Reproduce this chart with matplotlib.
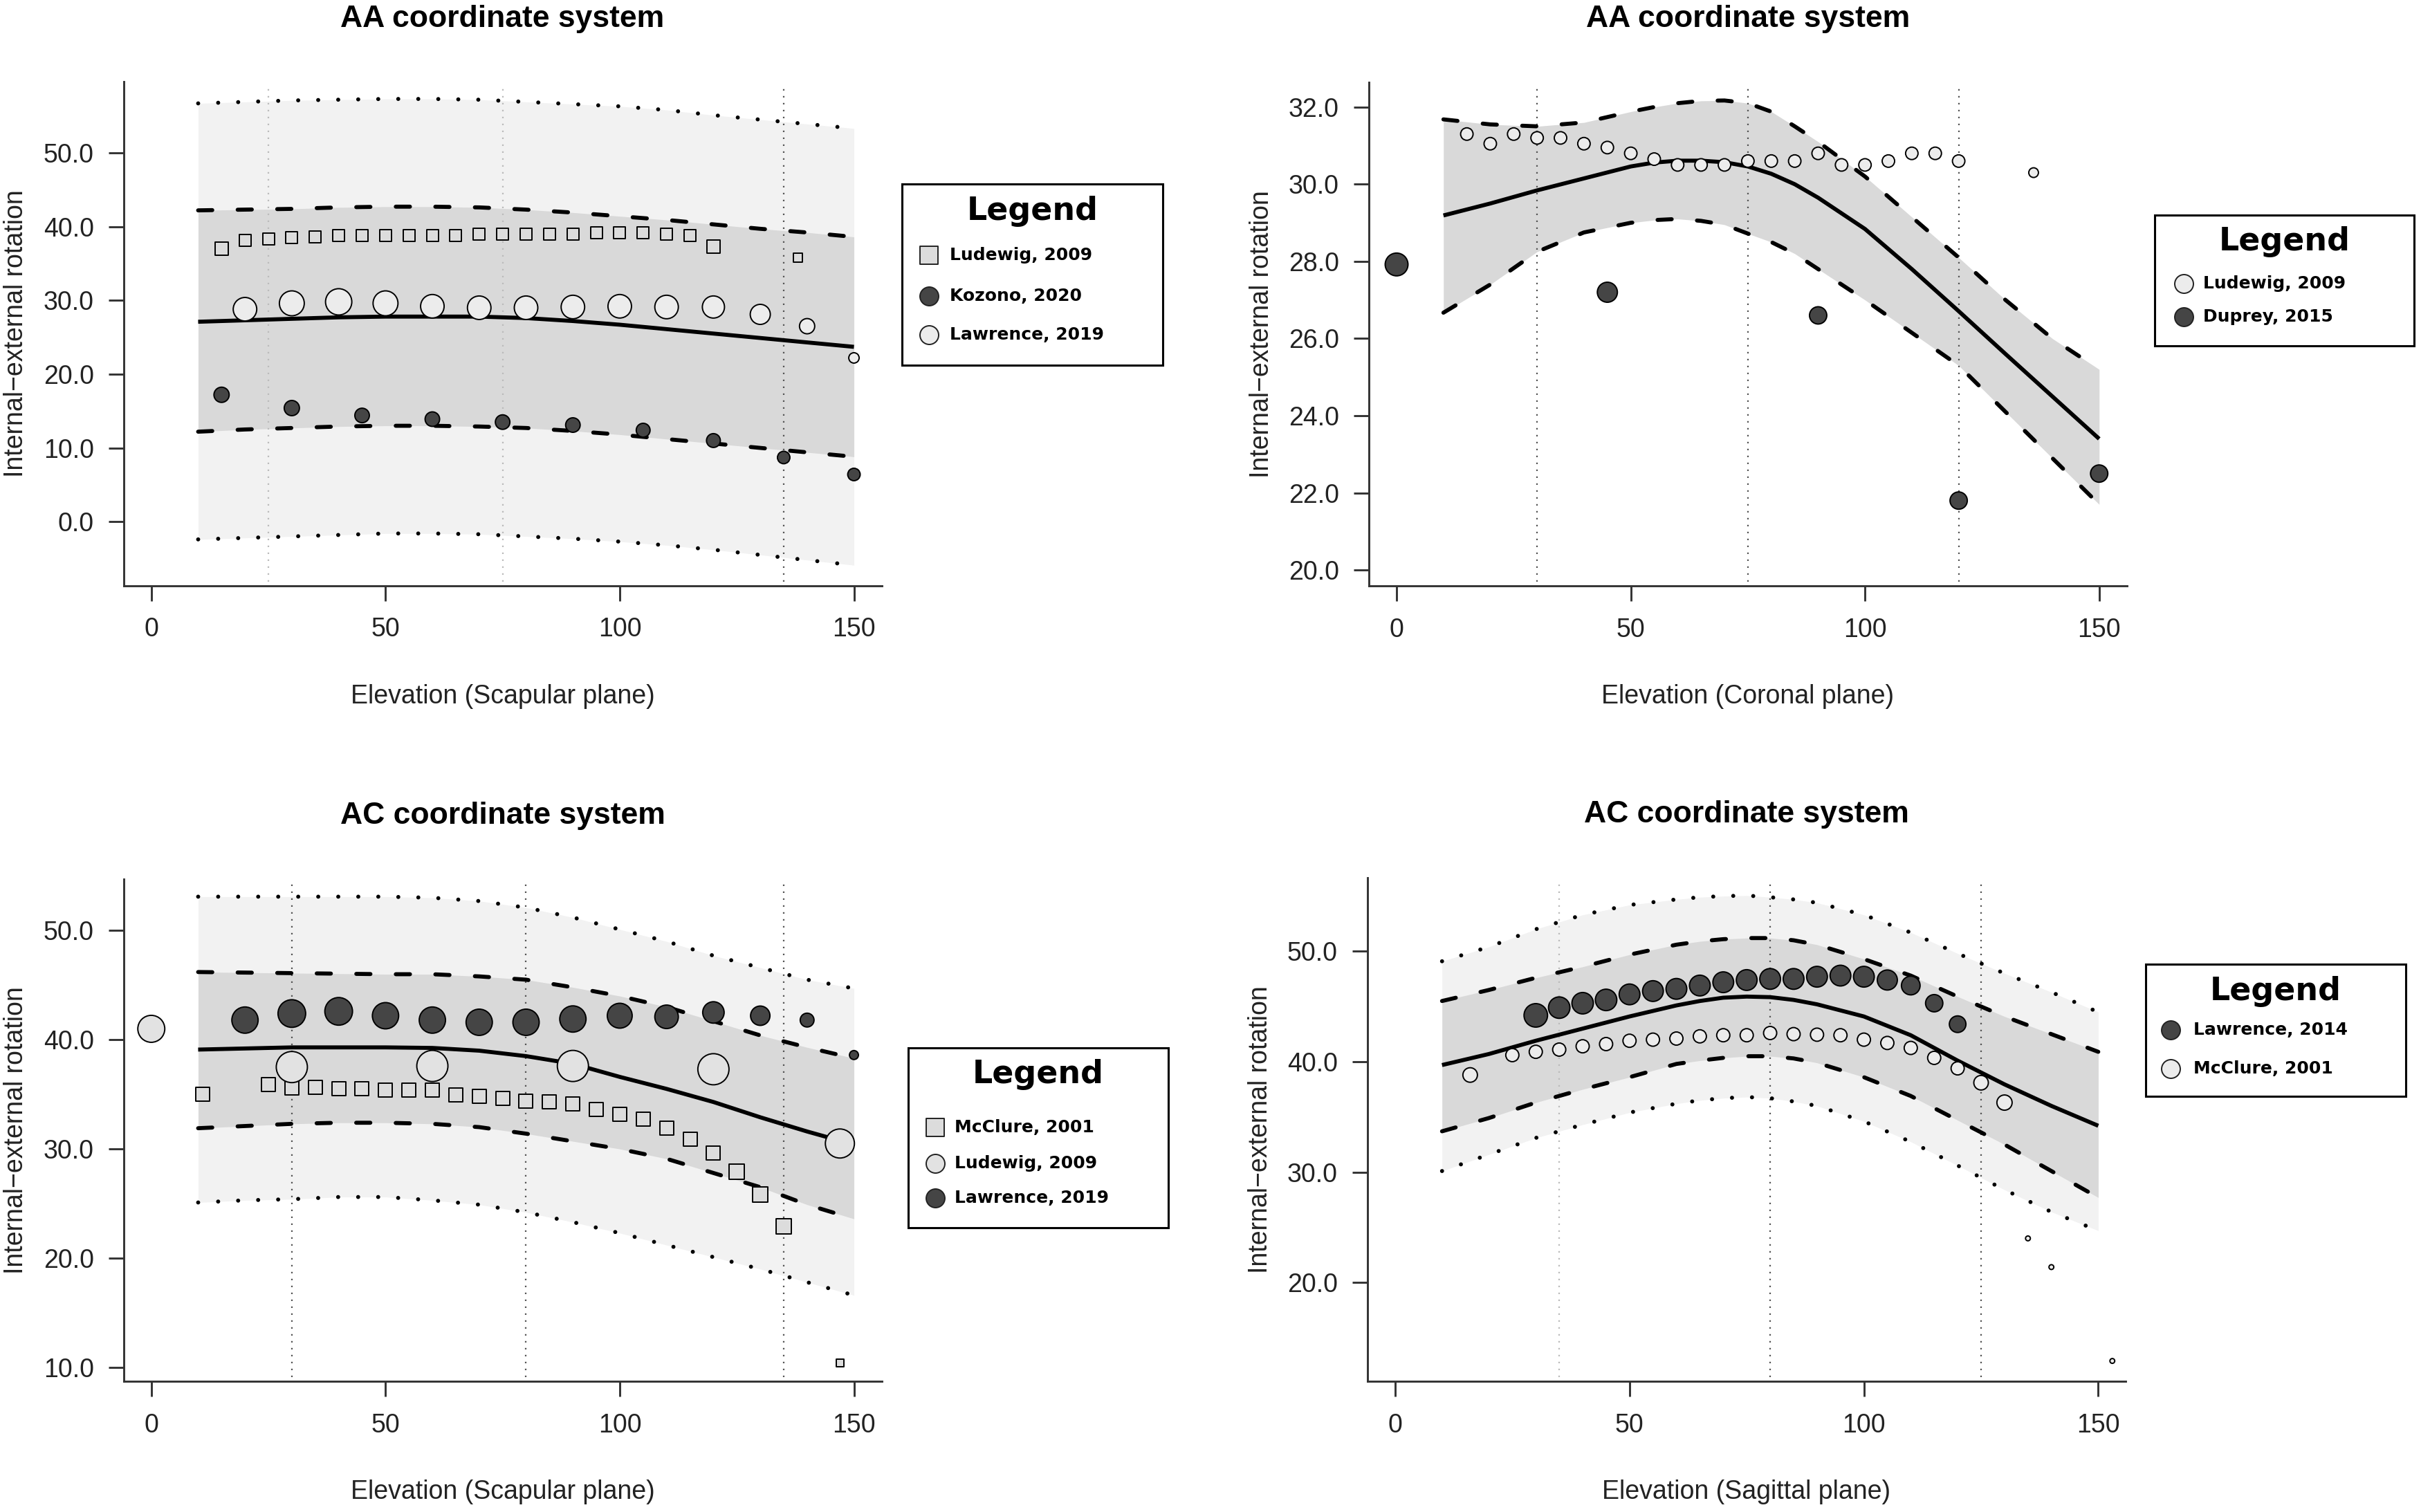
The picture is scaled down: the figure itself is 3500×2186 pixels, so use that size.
import matplotlib
matplotlib.use("Agg")
import matplotlib.pyplot as plt
from matplotlib.patches import Rectangle

W, H = 3500, 2186

# fitted curves (every 10 degrees, denser near the peaks)
grid_x = [10, 20, 30, 40, 50, 60, 70, 80, 90, 100, 110, 120, 130, 140, 150]

# --- AA, scapular plane
p1_pi_hi = [56.7, 56.9, 57.1, 57.2, 57.3, 57.3, 57.2, 56.9, 56.6, 56.3, 55.8, 55.1, 54.5, 53.9, 53.3]
p1_pi_lo = [-2.4, -2.2, -2.0, -1.8, -1.6, -1.6, -1.7, -2.0, -2.3, -2.7, -3.2, -3.8, -4.5, -5.2, -5.9]
p1_ci_hi = [42.2, 42.3, 42.4, 42.6, 42.7, 42.7, 42.6, 42.3, 41.9, 41.4, 40.9, 40.3, 39.7, 39.2, 38.6]
p1_ci_lo = [12.2, 12.5, 12.7, 12.9, 13.0, 13.0, 12.9, 12.7, 12.3, 11.8, 11.2, 10.6, 10.0, 9.4, 8.8]
p1_mean = [27.1, 27.3, 27.5, 27.7, 27.8, 27.8, 27.8, 27.6, 27.2, 26.7, 26.1, 25.5, 24.9, 24.3, 23.7]

lud1_x = [15, 20, 25, 30, 35, 40, 45, 50, 55, 60, 65, 70, 75, 80, 85, 90, 95, 100, 105, 110, 115, 120, 138]
lud1_y = [37.0, 38.1, 38.3, 38.5, 38.6, 38.8, 38.8, 38.8, 38.8, 38.8, 38.8, 39.0, 39.0, 39.0, 39.0, 39.0,
          39.2, 39.2, 39.2, 39.0, 38.8, 37.3, 35.8]
lud1_w = [19, 17, 17, 17, 17, 17, 17, 17, 17, 17, 17, 17, 17, 17, 17, 17, 17, 17, 17, 17, 17, 19, 13]
koz1_x = [15, 30, 45, 60, 75, 90, 105, 120, 135, 150]
koz1_y = [17.2, 15.4, 14.4, 13.9, 13.5, 13.1, 12.4, 11.0, 8.7, 6.4]
koz1_w = [22, 22, 21, 21, 21, 21, 20, 20, 18, 18]
law1_x = [20, 30, 40, 50, 60, 70, 80, 90, 100, 110, 120, 130, 140, 150]
law1_y = [28.8, 29.6, 29.8, 29.6, 29.2, 29.0, 29.0, 29.1, 29.2, 29.1, 29.1, 28.1, 26.5, 22.2]
law1_w = [34, 36, 38, 36, 34, 34, 34, 34, 34, 34, 32, 29, 22, 15]

# --- AA, coronal plane
p2_x = [10, 20, 30, 40, 50, 55, 60, 65, 70, 75, 80, 85, 90, 100, 110, 120, 130, 140, 150]
p2_ci_hi = [31.68, 31.55, 31.5, 31.6, 31.88, 32.0, 32.1, 32.16, 32.17, 32.1, 31.88, 31.5, 31.1,
            30.2, 29.15, 28.1, 27.0, 26.0, 25.2]
p2_ci_lo = [26.67, 27.4, 28.25, 28.75, 29.0, 29.07, 29.1, 29.05, 28.95, 28.72, 28.5, 28.2, 27.8,
            27.0, 26.15, 25.3, 24.1, 22.9, 21.7]
p2_mean = [29.19, 29.5, 29.84, 30.15, 30.46, 30.56, 30.61, 30.61, 30.57, 30.46, 30.27, 30.0, 29.65,
           28.84, 27.8, 26.71, 25.6, 24.5, 23.4]

lud2_x = [15, 20, 25, 30, 35, 40, 45, 50, 55, 60, 65, 70, 75, 80, 85, 90, 95, 100, 105, 110, 115, 120, 136]
lud2_y = [31.3, 31.05, 31.3, 31.2, 31.2, 31.05, 30.95, 30.8, 30.65, 30.5, 30.5, 30.5, 30.6, 30.6, 30.6,
          30.8, 30.5, 30.5, 30.6, 30.8, 30.8, 30.6, 30.3]
lud2_w = [18] * 22 + [14]
dup2_x = [0, 45, 90, 120, 150]
dup2_y = [27.92, 27.2, 26.6, 21.8, 22.5]
dup2_w = [33, 29, 25, 25, 25]

# --- AC, scapular plane
p3_pi_hi = [53.1, 53.1, 53.1, 53.1, 53.1, 53.0, 52.7, 52.1, 51.2, 50.1, 49.0, 47.7, 46.6, 45.5, 44.7]
p3_pi_lo = [25.1, 25.3, 25.4, 25.6, 25.6, 25.3, 24.9, 24.2, 23.3, 22.3, 21.2, 20.1, 19.0, 17.8, 16.6]
p3_ci_hi = [46.2, 46.15, 46.1, 46.05, 46.0, 46.0, 45.8, 45.5, 44.8, 44.0, 43.0, 41.7, 40.4, 39.3, 38.3]
p3_ci_lo = [31.9, 32.1, 32.3, 32.4, 32.4, 32.3, 32.0, 31.4, 30.7, 30.0, 29.1, 27.8, 26.5, 24.9, 23.6]
p3_mean = [39.1, 39.2, 39.3, 39.3, 39.3, 39.25, 39.0, 38.5, 37.8, 36.6, 35.5, 34.3, 32.9, 31.6, 30.4]

mcc3_x = [11, 25, 30, 35, 40, 45, 50, 55, 60, 65, 70, 75, 80, 85, 90, 95, 100, 105, 110, 115, 120, 125,
          130, 135, 147]
mcc3_y = [35.0, 35.9, 35.6, 35.65, 35.5, 35.5, 35.4, 35.4, 35.4, 34.95, 34.8, 34.6, 34.4, 34.3, 34.1,
          33.6, 33.2, 32.7, 31.9, 30.9, 29.6, 27.9, 25.8, 22.9, 10.4]
mcc3_w = [20] * 21 + [22, 22, 22, 11]
lud3_x = [0, 30, 60, 90, 120, 147]
lud3_y = [41.0, 37.5, 37.6, 37.6, 37.3, 30.5]
lud3_w = [39, 45, 45, 45, 45, 42]
law3_x = [20, 30, 40, 50, 60, 70, 80, 90, 100, 110, 120, 130, 140, 150]
law3_y = [41.8, 42.4, 42.6, 42.2, 41.8, 41.6, 41.6, 41.9, 42.2, 42.1, 42.5, 42.2, 41.8, 38.6]
law3_w = [38, 40, 40, 38, 38, 38, 38, 38, 36, 34, 31, 28, 20, 13]

# --- AC, sagittal plane
p4_x = [10, 20, 30, 40, 50, 60, 65, 70, 75, 80, 85, 90, 100, 110, 120, 130, 140, 150]
p4_pi_hi = [49.1, 50.4, 52.0, 53.3, 54.2, 54.7, 54.9, 55.0, 55.05, 54.9, 54.7, 54.4, 53.3, 51.7,
            49.8, 48.0, 46.3, 44.5]
p4_pi_lo = [30.1, 31.6, 33.1, 34.3, 35.4, 36.2, 36.5, 36.7, 36.8, 36.7, 36.4, 36.0, 34.6, 32.75,
            30.6, 28.4, 26.4, 24.7]
p4_ci_hi = [45.5, 46.5, 47.6, 48.6, 49.7, 50.6, 50.9, 51.1, 51.2, 51.2, 51.0, 50.6, 49.3, 47.8,
            45.9, 44.1, 42.5, 40.9]
p4_ci_lo = [33.7, 34.9, 36.3, 37.5, 38.6, 39.8, 40.1, 40.35, 40.5, 40.5, 40.3, 39.9, 38.6, 36.9,
            34.7, 32.5, 30.1, 27.7]
p4_mean = [39.7, 40.7, 41.9, 43.0, 44.1, 45.1, 45.5, 45.8, 45.9, 45.85, 45.6, 45.2, 44.1, 42.4,
           40.1, 37.95, 36.0, 34.2]

law4_x = [30, 35, 40, 45, 50, 55, 60, 65, 70, 75, 80, 85, 90, 95, 100, 105, 110, 115, 120]
law4_y = [44.2, 44.9, 45.3, 45.6, 46.1, 46.4, 46.6, 46.9, 47.2, 47.4, 47.5, 47.5, 47.7, 47.8, 47.7,
          47.4, 46.9, 45.3, 43.4]
law4_w = [34, 31, 31, 31, 30, 30, 30, 30, 30, 30, 30, 30, 30, 30, 30, 29, 27, 25, 24]
mcc4_x = [16, 25, 30, 35, 40, 45, 50, 55, 60, 65, 70, 75, 80, 85, 90, 95, 100, 105, 110, 115, 120, 125,
          130, 135, 140, 153]
mcc4_y = [38.8, 40.6, 40.9, 41.1, 41.4, 41.6, 41.9, 42.0, 42.1, 42.3, 42.4, 42.4, 42.6, 42.5, 42.45,
          42.4, 42.0, 41.7, 41.25, 40.35, 39.4, 38.1, 36.3, 24.0, 21.4, 12.9]
mcc4_w = [21] + [19] * 20 + [21, 22, 7, 7, 7]

x_ticks = [0, 50, 100, 150]

DARK = "#454545"
LIGHT = "#ececec"
SQ = "#dcdcdc"
PI_FILL = "#f2f2f2"
CI_FILL = "#d9d9d9"

plt.rcParams["font.family"] = ["Liberation Sans", "DejaVu Sans"]

fig = plt.figure(figsize=(W / 100, H / 100), dpi=100)


def px_rect(l, t, r, b):
    return [l / W, 1 - b / H, (r - l) / W, (b - t) / H]


def to_pt(d):
    return (d * 0.72) ** 2


LW = 4.2
dashed = (0, (3.5, 6.3))
dotted = (0, (0.01, 4.95))


def draw_panel(box, ylim, yticks, title, xlabel, vlines, gx, pi, ci, mean, series):
    ax = fig.add_axes(px_rect(*box))
    ax.set_xlim(-5.94, 155.9)
    ax.set_ylim(*ylim)
    h_px = box[3] - box[1]
    w_px = box[2] - box[0]
    if pi is not None:
        ax.fill_between(gx, pi[1], pi[0], color=PI_FILL, lw=0, zorder=1)
    ax.fill_between(gx, ci[1], ci[0], color=CI_FILL, lw=0, zorder=1.5)
    for xv, c in vlines:
        ax.axvline(xv, ymin=0.008, ymax=0.992, color=c, lw=1.6, ls=(0, (1, 3.5)), zorder=2)
    if pi is not None:
        for yy in pi:
            ax.plot(gx, yy, color="black", lw=LW, ls=dotted, dash_capstyle="round", zorder=3)
    for yy in ci:
        ax.plot(gx, yy, color="black", lw=LW, ls=dashed, dash_capstyle="round", zorder=3)
    ax.plot(gx, mean, color="black", lw=LW, solid_capstyle="butt", solid_joinstyle="round", zorder=3)
    for xs, ys, ws, mk, fc, lab in series:
        ax.scatter(xs, ys, s=[to_pt(w) for w in ws], marker=mk, facecolor=fc,
                   edgecolor="black", linewidths=1.4, zorder=4, clip_on=False)

    ax.set_xticks(x_ticks)
    ax.set_yticks(yticks)
    ax.set_yticklabels(["%.1f" % v for v in yticks])
    for s in ["top", "right"]:
        ax.spines[s].set_visible(False)
    for s in ["left", "bottom"]:
        ax.spines[s].set_linewidth(2.1)
        ax.spines[s].set_color("#333333")
    ax.tick_params(axis="both", length=15.8, width=2.1, color="#333333", labelsize=27,
                   labelcolor="#222222")
    ax.tick_params(axis="x", pad=17)
    ax.tick_params(axis="y", pad=15)
    ax.text(0.5, 1 + 91 / h_px, title, transform=ax.transAxes, ha="center", va="center",
            fontsize=32, fontweight="bold")
    ax.text(0.5, -160 / h_px, xlabel, transform=ax.transAxes, ha="center", va="center",
            fontsize=27, color="#222222")
    ax.text(-155 / w_px, 0.5, "Internal\u2212external rotation", transform=ax.transAxes,
            ha="center", va="center", rotation=90, fontsize=27, color="#222222")
    return ax


def draw_legend(box, title_y, entry_ys, mark_x, text_x, series):
    x0, y0, x1, y1 = box
    lax = fig.add_axes(px_rect(x0 - 5, y0 - 5, x1 + 5, y1 + 5))
    lax.set_xlim(x0 - 5, x1 + 5)
    lax.set_ylim(y1 + 5, y0 - 5)
    lax.set_axis_off()
    lax.add_patch(Rectangle((x0, y0), x1 - x0, y1 - y0, fill=False, lw=2.2, edgecolor="black"))
    lax.text((x0 + x1) / 2, title_y, "Legend", ha="center", va="center", fontsize=33,
             fontweight="bold", family="DejaVu Sans")
    for ey, (xs, ys, ws, mk, fc, lab) in zip(entry_ys, series):
        lax.scatter([mark_x], [ey], s=to_pt(27), marker=mk, facecolor=fc, edgecolor="#222222",
                    linewidths=1.4)
        lax.text(text_x, ey, lab, ha="left", va="center", fontsize=18, fontweight="bold",
                 family="DejaVu Sans")


s1 = [(lud1_x, lud1_y, lud1_w, "s", SQ, "Ludewig, 2009"),
      (koz1_x, koz1_y, koz1_w, "o", DARK, "Kozono, 2020"),
      (law1_x, law1_y, law1_w, "o", LIGHT, "Lawrence, 2019")]
draw_panel((178.5, 118, 1274.5, 846.5), (-8.65, 59.65), [0, 10, 20, 30, 40, 50],
           "AA coordinate system", "Elevation (Scapular plane)",
           [(25, "#bbbbbb"), (75, "#bbbbbb"), (135, "#555555")],
           grid_x, (p1_pi_hi, p1_pi_lo), (p1_ci_hi, p1_ci_lo), p1_mean, s1)
draw_legend((1304, 266, 1681, 528), 306, [369, 428, 484], 1343, 1373, s1)

s2 = [(lud2_x, lud2_y, lud2_w, "o", LIGHT, "Ludewig, 2009"),
      (dup2_x, dup2_y, dup2_w, "o", DARK, "Duprey, 2015")]
draw_panel((1978.8, 118.5, 3074.7, 847), (19.59, 32.65), [20, 22, 24, 26, 28, 30, 32],
           "AA coordinate system", "Elevation (Coronal plane)",
           [(30, "#555555"), (75, "#555555"), (120, "#555555")],
           p2_x, None, (p2_ci_hi, p2_ci_lo), p2_mean, s2)
draw_legend((3115, 311, 3490, 500), 350, [410, 458], 3157, 3185, s2)

s3 = [(mcc3_x, mcc3_y, mcc3_w, "s", SQ, "McClure, 2001"),
      (lud3_x, lud3_y, lud3_w, "o", "#e2e2e2", "Ludewig, 2009"),
      (law3_x, law3_y, law3_w, "o", DARK, "Lawrence, 2019")]
draw_panel((178.5, 1270.8, 1274.5, 1997.3), (8.71, 54.72), [10, 20, 30, 40, 50],
           "AC coordinate system", "Elevation (Scapular plane)",
           [(30, "#555555"), (80, "#555555"), (135, "#555555")],
           grid_x, (p3_pi_hi, p3_pi_lo), (p3_ci_hi, p3_ci_lo), p3_mean, s3)
draw_legend((1313, 1515, 1689, 1775), 1553, [1630, 1682, 1732], 1352, 1380, s3)

s4 = [(law4_x, law4_y, law4_w, "o", DARK, "Lawrence, 2014"),
      (mcc4_x, mcc4_y, mcc4_w, "o", LIGHT, "McClure, 2001")]
draw_panel((1976.7, 1268.6, 3073.4, 1997.3), (11.04, 56.69), [20, 30, 40, 50],
           "AC coordinate system", "Elevation (Sagittal plane)",
           [(35, "#bbbbbb"), (80, "#555555"), (125, "#555555")],
           p4_x, (p4_pi_hi, p4_pi_lo), (p4_ci_hi, p4_ci_lo), p4_mean, s4)
draw_legend((3102, 1394, 3478, 1585), 1433, [1489, 1545], 3138, 3171, s4)

fig.savefig("out.png", dpi=100, facecolor="white")
